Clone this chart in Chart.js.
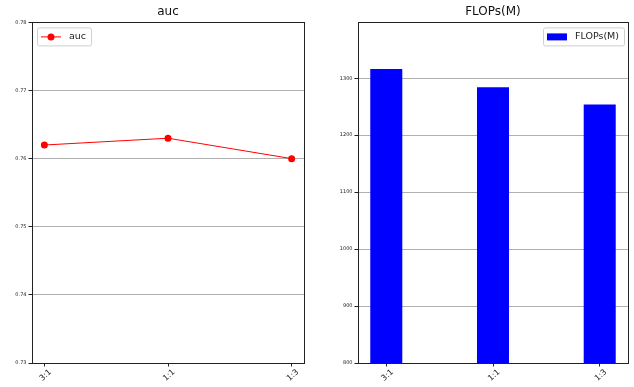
<!DOCTYPE html>
<html>
<head>
<meta charset="utf-8">
<script src="https://cdn.jsdelivr.net/npm/chart.js@4.4.1/dist/chart.umd.min.js"></script>
<style>
body { margin: 0; background: #fff; }
.box { position: absolute; top: 0; width: 317px; height: 387px; }
</style>
</head>
<body>
<div class="box" style="left:0"><canvas id="chartAuc"></canvas></div>
<div class="box" style="left:317px"><canvas id="chartFlops"></canvas></div>
<script>
var categorias = ['3:1', '1:1', '1:3'];
var valoresAuc = [0.762, 0.763, 0.760];
var valoresFlops = [1316, 1284, 1254];
var ticksAuc = [0.73, 0.74, 0.75, 0.76, 0.77, 0.78];
var ticksFlops = [800, 900, 1000, 1100, 1200, 1300];

var fuente = 'DejaVu Sans';

// marco completo + leyenda dentro del area
var marcoLeyenda = {
    id: 'marcoLeyenda',
    afterDatasetsDraw(chart, args, opts) {
        var a = chart.chartArea;
        var ctx = chart.ctx;
        ctx.save();
        ctx.strokeStyle = '#222';
        ctx.lineWidth = 1;
        ctx.strokeRect(Math.round(a.left) + 0.5, Math.round(a.top) + 0.5,
            Math.round(a.right - a.left), Math.round(a.bottom - a.top));
        // leyenda
        ctx.font = '9.5px "' + fuente + '"';
        var tw = ctx.measureText(opts.texto).width;
        var w = 4 + 20 + 8 + tw + 5;
        var h = 18;
        var x = opts.lado === 'izq' ? a.left + 5 : a.right - 4 - w;
        var y = a.top + 5;
        ctx.fillStyle = 'rgba(255,255,255,0.8)';
        ctx.strokeStyle = '#d0d0d0';
        ctx.beginPath();
        ctx.roundRect(x + 0.5, y + 0.5, w, h, 2);
        ctx.fill();
        ctx.stroke();
        var cy = y + h / 2 + 0.5;
        if (opts.tipo === 'linea') {
            ctx.strokeStyle = opts.color;
            ctx.lineWidth = 1;
            ctx.beginPath();
            ctx.moveTo(x + 4, cy);
            ctx.lineTo(x + 24, cy);
            ctx.stroke();
            ctx.fillStyle = opts.color;
            ctx.beginPath();
            ctx.arc(x + 14, cy, 3.5, 0, Math.PI * 2);
            ctx.fill();
        } else {
            ctx.fillStyle = opts.color;
            ctx.fillRect(x + 4, cy - 3.5, 20, 7);
        }
        ctx.fillStyle = '#222';
        ctx.textBaseline = 'middle';
        ctx.textAlign = 'left';
        ctx.fillText(opts.texto, x + 32, cy);
        ctx.restore();
    }
};

function ejeX(min, max) {
    return {
        type: 'linear',
        min: min,
        max: max,
        offset: false,
        afterBuildTicks: s => { s.ticks = categorias.map((c, i) => ({ value: i })); },
        afterFit: s => { s.height = 24; },
        grid: { offset: false, drawOnChartArea: false, drawTicks: true, tickLength: 3.5, tickColor: '#222' },
        border: { display: false },
        ticks: {
            callback: v => categorias[v],
            minRotation: 42, maxRotation: 42,
            labelOffset: 6,
            padding: 1,
            color: '#222',
            font: { family: fuente, size: 8 }
        }
    };
}

function ejeY(min, max, marcas, ancho) {
    return {
        type: 'linear',
        min: min,
        max: max,
        afterBuildTicks: s => { s.ticks = marcas.map(v => ({ value: v })); },
        afterFit: s => { s.width = ancho; },
        grid: { color: '#b0b0b0', lineWidth: 1, tickLength: 3.5, tickColor: '#222' },
        border: { display: false },
        ticks: {
            callback: v => String(v),
            padding: 2,
            color: '#222',
            font: { family: fuente, size: 5 }
        }
    };
}

function titulo(t) {
    return {
        display: true,
        text: t,
        fullSize: false,
        color: '#111',
        font: { family: fuente, size: 12, weight: 'normal' },
        padding: { top: 5, bottom: 3 }
    };
}

new Chart(document.getElementById('chartAuc'), {
    type: 'line',
    data: {
        datasets: [{
            label: 'auc',
            data: valoresAuc.map((v, i) => ({ x: i, y: v })),
            borderColor: '#ff0000',
            backgroundColor: '#ff0000',
            borderWidth: 1,
            pointRadius: 3.5,
            pointBorderWidth: 0,
            tension: 0
        }]
    },
    options: {
        responsive: true,
        maintainAspectRatio: false,
        animation: false,
        layout: { padding: { left: 0, right: 13, top: 0, bottom: 0 } },
        scales: {
            x: ejeX(-0.1, 2.1),
            y: ejeY(0.73, 0.78, ticksAuc, 32)
        },
        plugins: {
            legend: { display: false },
            tooltip: { enabled: false },
            title: titulo('auc'),
            marcoLeyenda: { texto: 'auc', tipo: 'linea', color: '#ff0000', lado: 'izq' }
        }
    },
    plugins: [marcoLeyenda]
});

new Chart(document.getElementById('chartFlops'), {
    type: 'bar',
    data: {
        datasets: [{
            label: 'FLOPs(M)',
            data: valoresFlops.map((v, i) => ({ x: i, y: v })),
            backgroundColor: '#0000ff',
            borderWidth: 0,
            barPercentage: 0.3,
            categoryPercentage: 1
        }]
    },
    options: {
        responsive: true,
        maintainAspectRatio: false,
        animation: false,
        layout: { padding: { left: 0, right: 6, top: 0, bottom: 0 } },
        scales: {
            x: ejeX(-0.265, 2.265),
            y: ejeY(800, 1398, ticksFlops, 41)
        },
        plugins: {
            legend: { display: false },
            tooltip: { enabled: false },
            title: titulo('FLOPs(M)'),
            marcoLeyenda: { texto: 'FLOPs(M)', tipo: 'barra', color: '#0000ff', lado: 'der' }
        }
    },
    plugins: [marcoLeyenda]
});
</script>
</body>
</html>
